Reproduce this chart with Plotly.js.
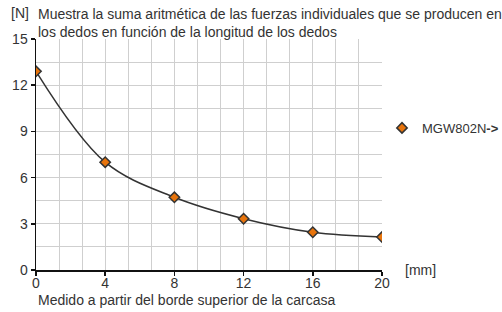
<!DOCTYPE html>
<html><head><meta charset="utf-8">
<script src="https://cdn.plot.ly/plotly-3.0.1.min.js"></script>
<style>html,body{margin:0;padding:0;background:#fff}#c{width:502px;height:312px}</style>
</head><body><div id="c"></div>
<script>
const lengthMm = [0, 4, 8, 12, 16, 20];
const forceN = [12.9, 7.0, 4.72, 3.33, 2.45, 2.14];
const seriesName = 'MGW802N<b>-></b>';
const xTicks = [0, 4, 8, 12, 16, 20];
const yTicks = [0, 3, 6, 9, 12, 15];

const txt = '#333';
const font = {family: 'Liberation Sans, Arial, sans-serif', size: 14, color: txt};
const legFont = {family: 'Liberation Sans, Arial, sans-serif', size: 13, color: txt};

const traces = [
  {x: lengthMm, y: forceN, mode: 'lines', line: {shape: 'spline', color: '#333', width: 1.5}, showlegend: false, hoverinfo: 'skip'},
  {x: lengthMm, y: forceN, mode: 'markers', name: seriesName,
   marker: {symbol: 'diamond', size: 8, color: '#e8740c', line: {color: '#333', width: 1.5}}}
];

const layout = {
  width: 502, height: 312,
  margin: {l: 36, r: 120, t: 39, b: 42, autoexpand: false},
  paper_bgcolor: '#fff', plot_bgcolor: '#fff',
  font: font,
  showlegend: true,
  legend: {x: 1.0, xanchor: 'left', xref: 'paper', y: 0.615, yanchor: 'middle', font: legFont, itemwidth: 30, bgcolor: 'rgba(0,0,0,0)', borderwidth: 0},
  xaxis: {range: [0, 20], tickvals: xTicks, ticktext: xTicks.map(String), showgrid: true, gridcolor: '#cfcfcf', gridwidth: 1,
    minor: {dtick: 4/3, tick0: 0, showgrid: true, gridcolor: '#cfcfcf', gridwidth: 1, ticks: ''},
    showline: true, linecolor: '#111', linewidth: 1.5, ticks: 'outside', ticklen: 4, tickcolor: '#111', tickwidth: 1.5,
    ticklabelstandoff: -4,
    zeroline: false, tickfont: font, fixedrange: true},
  yaxis: {range: [0, 15], tickvals: yTicks, ticktext: yTicks.map(String), showgrid: true, gridcolor: '#cfcfcf', gridwidth: 1,
    minor: {dtick: 1.5, tick0: 0, showgrid: true, gridcolor: '#cfcfcf', gridwidth: 1, ticks: ''},
    showline: true, linecolor: '#111', linewidth: 1.5, ticks: 'outside', ticklen: 4, tickcolor: '#111', tickwidth: 1.5,
    zeroline: false, tickfont: font, fixedrange: true},
  annotations: [
    {text: '[N]', xref: 'paper', yref: 'paper', x: -0.078, y: 1, xanchor: 'left', yanchor: 'bottom', yshift: 16, showarrow: false, font: font},
    {text: 'Muestra la suma aritmética de las fuerzas individuales que se producen en<br>los dedos en función de la longitud de los dedos',
     xref: 'paper', yref: 'paper', x: 0.0, y: 1, xanchor: 'left', yanchor: 'bottom', yshift: -3, align: 'left', showarrow: false, font: font},
    {text: '[mm]', xref: 'paper', yref: 'paper', x: 1.06, y: 0, xanchor: 'left', yanchor: 'middle', showarrow: false, font: font},
    {text: 'Medido a partir del borde superior de la carcasa', xref: 'paper', yref: 'paper', x: 0.0, y: 0, xanchor: 'left', yanchor: 'top', yshift: -20, showarrow: false, font: font}
  ]
};
Plotly.newPlot('c', traces, layout, {displayModeBar: false, staticPlot: true});
</script></body></html>
